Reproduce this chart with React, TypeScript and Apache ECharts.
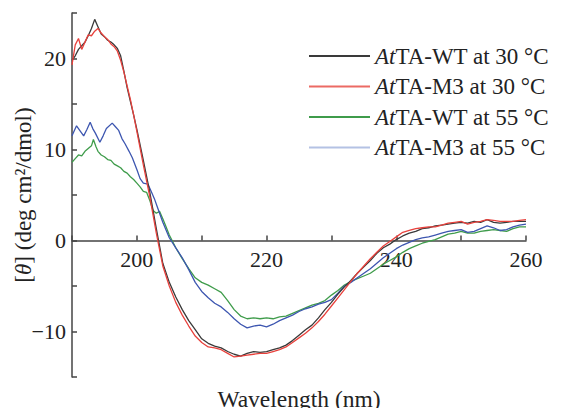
import React, { useEffect, useRef } from "react";
import * as echarts from "echarts";

const seriesNames = ["AtTA-WT at 30 °C", "AtTA-M3 at 30 °C", "AtTA-WT at 55 °C", "AtTA-M3 at 55 °C"];
const seriesColors = ["#3a3a3a", "#e8413c", "#3f9c4b", "#3d56b0"];
const legendColors = ["#3a3a3a", "#ec6a64", "#3f9c4b", "#b4c2e4"];

const xTickLabels = [200, 220, 240, 260];
const yTickLabels = [20, 10, 0, -10];

const wt30 = [[190,19.8],[190.5,20.3],[191,21.0],[191.5,21.4],[192,21.8],[192.5,22.5],[193,23.3],[193.5,24.3],[194,23.5],[194.5,22.7],[195,22.4],[195.5,22.0],[196,21.8],[196.5,21.5],[197,21.1],[197.5,20.3],[198,18.6],[198.5,16.8],[199,15.3],[199.5,13.8],[200,12.2],[201,8.8],[202,5.3],[203,1.3],[204,-2.5],[205,-4.6],[206,-6.2],[207,-7.6],[208,-8.8],[209,-9.8],[210,-10.8],[211,-11.3],[212,-11.6],[213,-11.8],[214,-12.2],[215,-12.5],[216,-12.7],[217,-12.4],[218,-12.2],[219,-12.3],[220,-12.2],[221,-12.0],[222,-11.8],[223,-11.5],[224,-11.0],[225,-10.4],[226,-9.8],[227,-9.3],[228,-8.5],[229,-7.6],[230,-6.8],[231,-5.9],[232,-5.1],[233,-4.4],[234,-3.6],[235,-2.9],[236,-2.2],[237,-1.4],[238,-0.8],[239,-0.4],[240,0.1],[241,0.5],[242,0.8],[243,1.0],[244,1.3],[245,1.4],[246,1.6],[247,1.7],[248,1.8],[249,1.9],[250,2.0],[251,1.9],[252,2.1],[253,2.0],[254,2.3],[255,2.0],[256,1.9],[257,2.0],[258,2.1],[259,2.1],[260,2.1]];

const m3_30 = [[190,19.3],[190.5,21.5],[191,22.2],[191.5,21.0],[192,21.8],[192.5,22.6],[193,22.5],[193.5,23.0],[194,23.3],[194.5,22.8],[195,22.4],[195.5,22.1],[196,21.6],[196.5,21.3],[197,20.8],[197.5,19.8],[198,18.5],[198.5,17.0],[199,15.5],[199.5,13.8],[200,12.0],[201,8.3],[202,4.8],[203,0.8],[204,-2.8],[205,-5.0],[206,-6.8],[207,-8.2],[208,-9.4],[209,-10.5],[210,-11.2],[211,-11.7],[212,-11.8],[213,-12.0],[214,-12.4],[215,-12.8],[216,-12.7],[217,-12.6],[218,-12.5],[219,-12.4],[220,-12.4],[221,-12.2],[222,-12.0],[223,-11.7],[224,-11.2],[225,-10.7],[226,-10.2],[227,-9.6],[228,-8.9],[229,-8.1],[230,-7.2],[231,-6.3],[232,-5.4],[233,-4.5],[234,-3.6],[235,-2.8],[236,-2.0],[237,-1.3],[238,-0.6],[239,-0.1],[240,0.4],[241,0.9],[242,1.1],[243,1.3],[244,1.4],[245,1.5],[246,1.5],[247,1.7],[248,1.9],[249,2.0],[250,2.1],[251,1.8],[252,2.0],[253,2.1],[254,2.3],[255,2.2],[256,2.1],[257,2.1],[258,2.1],[259,2.2],[260,2.3]];

const wt55 = [[190,8.6],[190.5,9.0],[191,9.4],[191.5,9.3],[192,9.8],[192.5,10.1],[193,10.4],[193.3,11.1],[193.7,10.3],[194,9.8],[194.5,9.4],[195,9.2],[195.5,8.9],[196,8.8],[196.5,8.4],[197,8.2],[197.5,8.0],[198,7.6],[198.5,7.4],[199,7.0],[199.5,6.7],[200,6.3],[200.5,5.9],[201,5.4],[201.5,5.3],[202,4.4],[202.5,3.3],[203,3.0],[203.5,3.2],[204,2.4],[204.5,1.5],[205,0.6],[206,-0.8],[207,-2.0],[208,-3.1],[209,-4.1],[210,-4.6],[211,-4.9],[212,-5.3],[213,-5.7],[214,-6.6],[215,-7.6],[216,-8.3],[217,-8.6],[218,-8.5],[219,-8.6],[220,-8.5],[221,-8.6],[222,-8.4],[223,-8.3],[224,-8.0],[225,-7.7],[226,-7.4],[227,-7.1],[228,-6.9],[229,-6.6],[230,-6.0],[231,-5.5],[232,-4.9],[233,-4.5],[234,-4.2],[235,-3.9],[236,-3.6],[237,-3.1],[238,-2.6],[239,-2.2],[240,-1.8],[241,-1.3],[242,-0.9],[243,-0.6],[244,-0.3],[245,-0.1],[246,0.1],[247,0.4],[248,0.7],[249,0.8],[250,1.0],[251,0.8],[252,0.8],[253,1.0],[254,1.1],[255,1.2],[256,1.1],[257,1.0],[258,1.3],[259,1.5],[260,1.5]];

const m3_55 = [[190,11.5],[190.7,12.6],[191.3,12.0],[191.8,11.5],[192.3,12.2],[192.8,13.0],[193.2,12.3],[193.6,11.8],[194.3,10.8],[194.8,11.5],[195.3,12.3],[196.2,12.9],[196.7,12.5],[197.2,12.1],[197.7,11.2],[198.2,10.6],[198.8,9.8],[199.3,9.1],[200,7.8],[200.5,6.8],[201,6.3],[201.7,6.2],[202.2,5.4],[202.7,4.6],[203.2,3.6],[204,2.0],[205,0.3],[206,-0.8],[207,-1.9],[208,-3.2],[209,-4.6],[210,-5.6],[211,-6.3],[212,-6.9],[213,-7.3],[214,-7.9],[215,-8.6],[216,-9.2],[217,-9.6],[218,-9.4],[219,-9.3],[220,-9.5],[221,-9.2],[222,-8.8],[223,-8.5],[224,-8.2],[225,-7.8],[226,-7.5],[227,-7.3],[228,-7.0],[229,-6.8],[230,-6.5],[231,-5.8],[232,-5.0],[233,-4.6],[234,-4.1],[235,-3.6],[236,-3.1],[237,-2.5],[238,-1.9],[239,-1.4],[240,-0.9],[241,-0.5],[242,-0.2],[243,0.1],[244,0.3],[245,0.4],[246,0.6],[247,0.8],[248,1.0],[249,1.1],[250,1.2],[251,0.9],[252,1.0],[253,1.3],[254,1.6],[255,1.4],[256,1.1],[257,1.2],[258,1.5],[259,1.7],[260,1.8]];

const seriesData = [wt30, m3_30, wt55, m3_55];

const FONT = "'Liberation Serif', 'Times New Roman', serif";
const AXIS_COLOR = "#444";
const Y_MIN = -15;
const Y_MAX = 25;
const GRID_TOP = 13;
const GRID_BOTTOM = 39;
const CHART_H = 416;

export default function App() {
  const ref = useRef<HTMLDivElement>(null);
  useEffect(() => {
    if (!ref.current) return;
    const chart = echarts.init(ref.current, undefined, { renderer: "svg" });
    const plotH = CHART_H - GRID_TOP - GRID_BOTTOM;
    // shift the x axis (line, ticks, labels) from the grid bottom up to y = 0
    const zeroShift = (plotH * (0 - Y_MIN)) / (Y_MAX - Y_MIN);
    chart.setOption({
      animation: false,
      backgroundColor: "#fff",
      grid: { left: 72, right: 36, top: GRID_TOP, bottom: GRID_BOTTOM, containLabel: false, outerBoundsMode: "none" },
      legend: {
        orient: "vertical",
        left: 304,
        top: 39,
        icon: "rect",
        itemWidth: 61,
        itemHeight: 2,
        itemGap: 6.5,
        data: seriesNames.map((n, i) => ({ name: n, itemStyle: { color: legendColors[i] } })),
        formatter: (name: string) => "{i|At}" + name.slice(2),
        textStyle: {
          fontFamily: FONT,
          fontSize: 23,
          color: "#222",
          lineHeight: 24,
          rich: { i: { fontFamily: FONT, fontSize: 23, fontStyle: "italic", color: "#222", lineHeight: 24 } },
        },
      },
      xAxis: {
        type: "value",
        position: "bottom",
        offset: -zeroShift,
        min: 190,
        max: 260,
        interval: 10,
        name: "Wavelength (nm)",
        nameLocation: "middle",
        nameGap: 146,
        nameMoveOverlap: false,
        nameTextStyle: { fontFamily: FONT, fontSize: 23.5, color: "#222" },
        axisLine: { onZero: false, lineStyle: { color: AXIS_COLOR, width: 1.5 } },
        axisTick: { inside: true, length: 5, lineStyle: { color: AXIS_COLOR, width: 1.5 } },
        splitLine: { show: false },
        axisLabel: {
          margin: 8,
          fontFamily: FONT,
          fontSize: 22,
          color: "#222",
          formatter: (v: number) => (xTickLabels.includes(v) ? String(v) : ""),
        },
      },
      yAxis: {
        type: "value",
        min: Y_MIN,
        max: Y_MAX,
        interval: 5,
        name: "[{i|θ}] (deg cm²/dmol)",
        nameLocation: "middle",
        nameGap: 37,
        nameMoveOverlap: false,
        nameTextStyle: {
          fontFamily: FONT,
          fontSize: 23,
          color: "#222",
          rich: { i: { fontFamily: FONT, fontSize: 23, fontStyle: "italic", color: "#222" } },
        },
        axisLine: { show: true, lineStyle: { color: AXIS_COLOR, width: 1.5 } },
        axisTick: { inside: true, length: 5, lineStyle: { color: AXIS_COLOR, width: 1.5 } },
        splitLine: { show: false },
        axisLabel: {
          margin: 6,
          fontFamily: FONT,
          fontSize: 22,
          color: "#222",
          formatter: (v: number) => (yTickLabels.includes(v) ? (v < 0 ? "\u2212" + Math.abs(v) : String(v)) : ""),
        },
      },
      series: seriesNames.map((n, i) => ({
        name: n,
        type: "line",
        data: seriesData[i],
        symbol: "none",
        showSymbol: false,
        lineStyle: { color: seriesColors[i], width: 1.3 },
        itemStyle: { color: seriesColors[i] },
        z: [3, 4, 2, 2][i],
      })),
    });
    return () => chart.dispose();
  }, []);
  return <div ref={ref} style={{ width: 562, height: 416, margin: -8 }} />;
}
